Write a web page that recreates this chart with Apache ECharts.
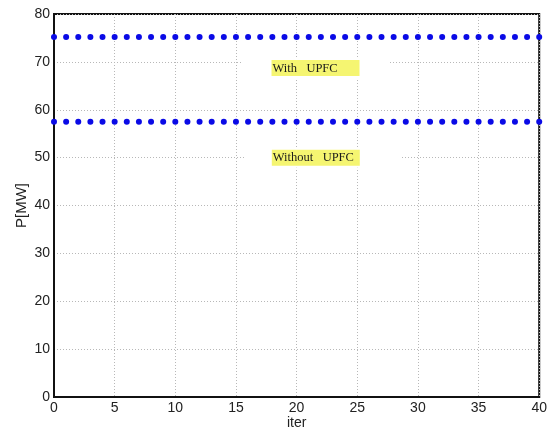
<!DOCTYPE html>
<html>
<head>
<meta charset="utf-8">
<script src="https://cdn.jsdelivr.net/npm/echarts@6/dist/echarts.min.js"></script>
<style>
html,body{margin:0;padding:0;background:#fff;}
#chart{width:550px;height:435px;}
</style>
</head>
<body>
<div id="chart"></div>
<script>
// Iteration index and active power per iteration
var iterations = [];
for (var i = 0; i <= 40; i++) iterations.push(i);
var withUpfc = [75.2,75.2,75.2,75.2,75.2,75.2,75.2,75.2,75.2,75.2,75.2,75.2,75.2,75.2,75.2,75.2,75.2,75.2,75.2,75.2,75.2,75.2,75.2,75.2,75.2,75.2,75.2,75.2,75.2,75.2,75.2,75.2,75.2,75.2,75.2,75.2,75.2,75.2,75.2,75.2,75.2];
var withoutUpfc = [57.5,57.5,57.5,57.5,57.5,57.5,57.5,57.5,57.5,57.5,57.5,57.5,57.5,57.5,57.5,57.5,57.5,57.5,57.5,57.5,57.5,57.5,57.5,57.5,57.5,57.5,57.5,57.5,57.5,57.5,57.5,57.5,57.5,57.5,57.5,57.5,57.5,57.5,57.5,57.5,57.5];
var seriesNames = ['With   UPFC', 'Without   UPFC'];
// Annotation anchor points in data units [iter, P]
var labelAnchors = [[21.6, 68.7], [22.2, 50.0]];
// White margin around each highlighted note [left, right]
var notePads = [[29, 30], [27, 42]];

function pairs(xs, ys) {
  return xs.map(function (x, k) { return [x, ys[k]]; });
}

// Text annotation: yellow highlighted text on a wider white box
function noteLabel(text, anchor, pad) {
  return {
    silent: true,
    symbol: 'rect',
    symbolSize: 1,
    itemStyle: { color: 'rgba(0,0,0,0)' },
    data: [{
      coord: anchor,
      label: {
        show: true,
        position: 'inside',
        formatter: '{t|' + text + '}',
        backgroundColor: '#ffffff',
        padding: [2, pad[1], 2, pad[0]],
        rich: {
          t: {
            fontFamily: 'Liberation Serif',
            fontSize: 12.5,
            color: '#1a1a1a',
            backgroundColor: '#f5f571',
            width: 86,
            height: 13,
            align: 'left',
            padding: [2, 1, 1, 1]
          }
        }
      }
    }]
  };
}

var chart = echarts.init(document.getElementById('chart'));
chart.setOption({
  animation: false,
  backgroundColor: '#ffffff',
  grid: {
    left: 54, right: 9, top: 14, bottom: 37,
    show: true, borderColor: '#111', borderWidth: 2, backgroundColor: 'transparent'
  },
  xAxis: {
    type: 'value', min: 0, max: 40, interval: 5,
    name: 'iter', nameLocation: 'middle', nameGap: 19, nameMoveOverlap: false,
    nameTextStyle: { fontFamily: 'Liberation Sans', fontSize: 14, color: '#222' },
    axisLine: { show: true, lineStyle: { color: '#111', width: 2 } },
    axisTick: { show: false },
    axisLabel: { fontFamily: 'Liberation Sans', fontSize: 14, color: '#222', margin: 4 },
    splitLine: { show: true, lineStyle: { color: '#b8b8b8', type: [1, 2], width: 1 } }
  },
  yAxis: {
    type: 'value', min: 0, max: 80, interval: 10,
    name: 'P[MW]', nameLocation: 'middle', nameGap: 25, nameMoveOverlap: false,
    nameTextStyle: { fontFamily: 'Liberation Sans', fontSize: 15, color: '#222' },
    axisLine: { show: true, lineStyle: { color: '#111', width: 2 } },
    axisTick: { show: false },
    axisLabel: { fontFamily: 'Liberation Sans', fontSize: 14, color: '#222', margin: 4 },
    splitLine: { show: true, lineStyle: { color: '#b8b8b8', type: [1, 2], width: 1 } }
  },
  series: [
    {
      name: seriesNames[0], type: 'scatter', symbol: 'circle', symbolSize: 6,
      itemStyle: { color: '#0a0ae6', opacity: 1 },
      data: pairs(iterations, withUpfc),
      markPoint: noteLabel(seriesNames[0], labelAnchors[0], notePads[0])
    },
    {
      name: seriesNames[1], type: 'scatter', symbol: 'circle', symbolSize: 6,
      itemStyle: { color: '#0a0ae6', opacity: 1 },
      data: pairs(iterations, withoutUpfc),
      markPoint: noteLabel(seriesNames[1], labelAnchors[1], notePads[1])
    }
  ]
});
</script>
</body>
</html>
